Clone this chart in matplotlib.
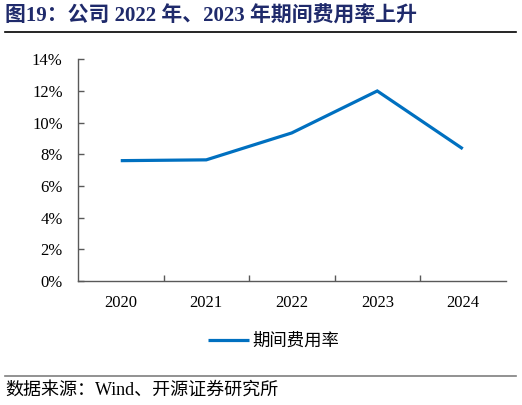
import matplotlib
matplotlib.use("Agg")
import matplotlib.pyplot as plt
from matplotlib.ticker import FuncFormatter, FixedLocator

years = ["2020", "2021", "2022", "2023", "2024"]
expense_ratio = [7.6, 7.65, 9.35, 12.0, 8.35]
series_name = "期间费用率"
title = "图19：公司 2022 年、2023 年期间费用率上升"
source = "数据来源：Wind、开源证券研究所"

FAM = ["Liberation Serif", "Noto Sans CJK SC", "DejaVu Sans"]
plt.rcParams["font.family"] = FAM

fig = plt.figure(figsize=(5.22, 4.05), dpi=100)
ax = fig.add_axes([78/522, 1-281/405, (505.5-78)/522, (281-59.3)/405])

x = list(range(len(years)))
line, = ax.plot(x, expense_ratio, color="#0070C0", lw=2.3, solid_capstyle="butt",
                solid_joinstyle="miter", label=series_name)

ax.set_xlim(-0.5, len(years) - 0.5)
ax.set_ylim(0, 14)
ax.set_yticks(range(0, 15, 2))
ax.yaxis.set_major_formatter(FuncFormatter(lambda v, p: f"{int(v)}%"))
ax.set_xticks(x)
ax.set_xticklabels(years)
ax.xaxis.set_minor_locator(FixedLocator([i + 0.5 for i in range(len(years) - 1)]))

for s in ["top", "right"]:
    ax.spines[s].set_visible(False)
for s in ["left", "bottom"]:
    ax.spines[s].set_color("#595959")
    ax.spines[s].set_linewidth(1.0)

ax.tick_params(axis="y", direction="in", length=4, width=1, color="#595959",
               labelsize=12, pad=11, labelcolor="#000000")
ax.tick_params(axis="x", which="major", length=0, labelsize=12, pad=10)
ax.tick_params(axis="x", which="minor", direction="in", length=4, width=1, color="#595959")

leg = fig.legend(handles=[line], loc="center", bbox_to_anchor=(274/522, 1-341/405),
                 frameon=False, handlelength=2.35, handletextpad=0.2,
                 prop={"family": ["Noto Sans CJK SC"], "size": 12.5})

# title
fig.text(5/522, 1-16/405, title, fontsize=15, fontweight="bold", color="#1F2A6B",
         ha="left", va="center", family=FAM)
fig.add_artist(plt.Line2D([5/522, 516/522], [1-31.5/405, 1-31.5/405],
                          color="#000000", lw=1.2, transform=fig.transFigure))
# footer
fig.add_artist(plt.Line2D([5/522, 516/522], [1-376/405, 1-376/405],
                          color="#7f7f7f", lw=1.2, transform=fig.transFigure))
fig.text(5/522, 1-390/405, source, fontsize=13, color="#000000",
         ha="left", va="center", family=FAM)

fig.savefig("out.png", dpi=100)
